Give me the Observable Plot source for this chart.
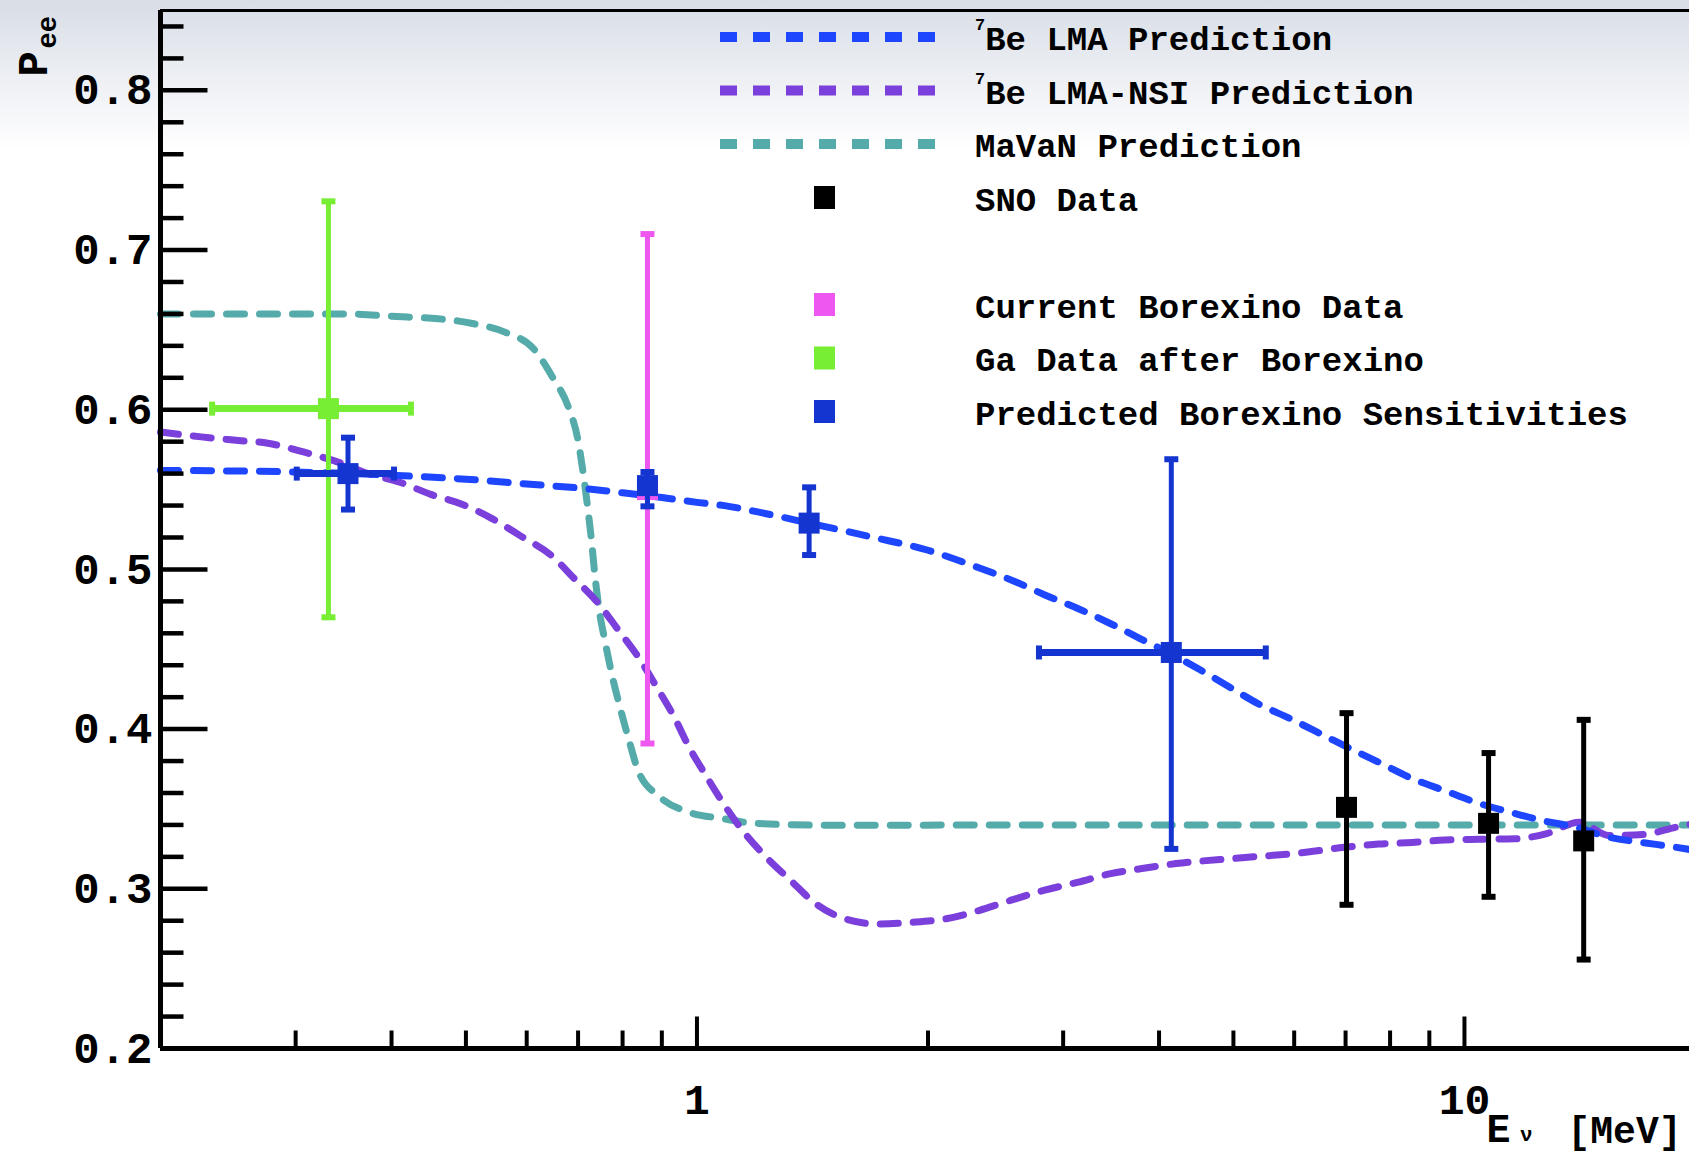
<!DOCTYPE html>
<html>
<head>
<meta charset="utf-8">
<script src="https://cdn.jsdelivr.net/npm/d3@7"></script>
<script src="https://cdn.jsdelivr.net/npm/@observablehq/plot@0.6"></script>
<style>
html, body { margin: 0; padding: 0; }
body {
  width: 1689px; height: 1153px; overflow: hidden;
  background: linear-gradient(to bottom, #d8dde6 0px, #e4e8ee 45px, #f4f5f8 105px, #ffffff 150px, #ffffff 100%);
}
#wrap { position: relative; width: 1689px; height: 1153px; }
</style>
</head>
<body>
<div id="wrap"></div>
<script>
// ---------------- data ----------------
const xDomain = [0.2, 20];
const yDomain = [0.2, 0.85];

const yMajorTicks = [0.2, 0.3, 0.4, 0.5, 0.6, 0.7, 0.8];
const yMinorTicks = [0.22,0.24,0.26,0.28,0.32,0.34,0.36,0.38,0.42,0.44,0.46,0.48,0.52,0.54,0.56,0.58,0.62,0.64,0.66,0.68,0.72,0.74,0.76,0.78,0.82,0.84];
const xMajorTicks = [1, 10];
const xMinorTicks = [0.3,0.4,0.5,0.6,0.7,0.8,0.9,2,3,4,5,6,7,8,9];
const xTickLabels = ["1", "10"];

// 7Be LMA prediction (blue dashed)
const lmaX = [0.2,0.3,0.4,0.5,0.6,0.7,0.8,0.9,1.0,1.1,1.2,1.4,1.7,2.0,2.3,2.59,2.84,3.13,3.46,3.79,4.15,4.53,4.94,5.41,5.9,6.5,7.18,7.79,8.55,9.42,10.37,11.47,12.62,13.96,15.43,17.06,18.87,20];
const lmaY = [0.562,0.561,0.559,0.5565,0.5535,0.551,0.548,0.545,0.542,0.5395,0.536,0.529,0.520,0.512,0.502,0.4926,0.484,0.4757,0.466,0.4564,0.447,0.437,0.4264,0.4154,0.407,0.397,0.3866,0.3785,0.369,0.3615,0.354,0.348,0.3428,0.3386,0.3323,0.329,0.326,0.324];

// 7Be LMA-NSI prediction (purple dashed)
const nsiX = [0.2,0.226,0.249,0.276,0.308,0.337,0.373,0.41,0.45,0.493,0.54,0.589,0.645,0.693,0.743,0.79,0.839,0.887,0.933,0.976,1.027,1.084,1.147,1.23,1.326,1.42,1.554,1.719,1.909,2.12,2.33,2.56,2.83,3.13,3.46,3.8,4.21,5.13,6.25,6.97,7.73,8.55,9.42,10.47,11.64,12.8,14.1,15.43,17.1,18.87,20];
const nsiY = [0.586,0.583,0.581,0.579,0.5734,0.568,0.56,0.5546,0.547,0.541,0.532,0.521,0.509,0.494,0.479,0.462,0.445,0.426,0.408,0.389,0.371,0.353,0.3365,0.32,0.305,0.2916,0.2814,0.278,0.279,0.2814,0.2864,0.2927,0.299,0.304,0.3095,0.3127,0.3158,0.3194,0.323,0.326,0.328,0.329,0.3305,0.331,0.3313,0.3346,0.3417,0.3334,0.334,0.3386,0.341];

// MaVaN prediction (teal dashed)
const mavanX = [0.2,0.345,0.42,0.46,0.51,0.562,0.613,0.649,0.68,0.70,0.711,0.721,0.729,0.736,0.7455,0.759,0.774,0.794,0.815,0.839,0.892,0.976,1.08,1.19,1.5,3,20];
const mavanY = [0.66,0.66,0.658,0.657,0.654,0.6486,0.638,0.62,0.6016,0.5807,0.56,0.5375,0.5175,0.497,0.475,0.455,0.435,0.4135,0.3935,0.3735,0.358,0.348,0.344,0.341,0.3398,0.34,0.34];

// SNO data (black)
const snoX  = [7.02, 10.75, 14.3];
const snoY  = [0.351, 0.341, 0.330];
const snoLo = [0.29, 0.295, 0.2557];
const snoHi = [0.41, 0.385, 0.4058];

// Current Borexino data (pink)
const bxX  = [0.862];
const bxY  = [0.55];
const bxLo = [0.391];
const bxHi = [0.71];

// Ga data after Borexino (green)
const gaX   = [0.331];
const gaY   = [0.6007];
const gaLo  = [0.47];
const gaHi  = [0.7305];
const gaXLo = [0.2335];
const gaXHi = [0.424];

// Predicted Borexino sensitivities (blue)
const sensX   = [0.351, 0.862, 1.40, 4.15];
const sensY   = [0.56, 0.5525, 0.529, 0.448];
const sensLo  = [0.5375, 0.5395, 0.509, 0.325];
const sensHi  = [0.5825, 0.561, 0.5514, 0.569];
const sensXLo = [0.301, null, null, 2.79];
const sensXHi = [0.403, null, null, 5.51];

// legend
const legendSup   = ["7", "7", "", "", "", "", ""];
const legendText  = ["Be LMA Prediction", "Be LMA-NSI Prediction", "MaVaN Prediction", "SNO Data", "Current Borexino Data", "Ga Data after Borexino", "Predicted Borexino Sensitivities"];
const legendKind  = ["line", "line", "line", "box", "box", "box", "box"];

// ---------------- styles ----------------
const C = {
  lma: "#1e46ff", nsi: "#7b3fdc", mavan: "#55aaaa",
  sno: "#000000", bx: "#ee58f0", ga: "#77ee33", sens: "#1535d0"
};
const legendColor = [C.lma, C.nsi, C.mavan, C.sno, C.bx, C.ga, C.sens];
const FONT = '"Liberation Mono", "DejaVu Sans Mono", monospace';

const W = 1689, H = 1153;
const rectSym = (x0, y0, w, h) => ({ draw(ctx) { ctx.rect(x0, y0, w, h); } });
const hCap = rectSym(-7, -3, 14, 6);
const vCap = rectSym(-3, -7, 6, 14);
const square = rectSym(-10.5, -10.5, 21, 21);

const zip = (xs, ys) => xs.map((x, i) => ({x, y: ys[i]}));
const lma = zip(lmaX, lmaY), nsi = zip(nsiX, nsiY), mavan = zip(mavanX, mavanY);
const table = (x, y, lo, hi, xlo, xhi) => x.map((v, i) => ({x: v, y: y[i], lo: lo[i], hi: hi[i], xlo: xlo ? xlo[i] : null, xhi: xhi ? xhi[i] : null}));
const sno = table(snoX, snoY, snoLo, snoHi);
const bx = table(bxX, bxY, bxLo, bxHi);
const ga = table(gaX, gaY, gaLo, gaHi, gaXLo, gaXHi);
const sens = table(sensX, sensY, sensLo, sensHi, sensXLo, sensXHi);

function errMarks(data, color) {
  const hx = data.filter(d => d.xlo != null);
  return [
    Plot.ruleX(data, {x: "x", y1: "lo", y2: "hi", stroke: color, strokeWidth: 5}),
    Plot.ruleY(hx, {y: "y", x1: "xlo", x2: "xhi", stroke: color, strokeWidth: 7}),
    Plot.dot(data, {x: "x", y: "lo", symbol: hCap, fill: color, stroke: "none"}),
    Plot.dot(data, {x: "x", y: "hi", symbol: hCap, fill: color, stroke: "none"}),
    Plot.dot(hx, {x: "xlo", y: "y", symbol: vCap, fill: color, stroke: "none"}),
    Plot.dot(hx, {x: "xhi", y: "y", symbol: vCap, fill: color, stroke: "none"}),
    Plot.dot(data, {x: "x", y: "y", symbol: square, fill: color, stroke: "none"})
  ];
}

const dash = {strokeWidth: 7, strokeDasharray: "18,15", curve: "monotone-x"};
const txt = {fontFamily: FONT, fontWeight: "bold", fill: "black"};

const chart = Plot.plot({
  width: W, height: H,
  marginLeft: 160, marginRight: 0, marginTop: 10, marginBottom: 105,
  style: {background: "transparent", fontFamily: FONT, overflow: "hidden"},
  x: {type: "log", domain: xDomain, range: [160, 1695], axis: null},
  y: {domain: yDomain, range: [1048, 10], axis: null},
  marks: [
    // curves
    Plot.line(mavan, {x: "x", y: "y", stroke: C.mavan, ...dash}),
    Plot.line(nsi, {x: "x", y: "y", stroke: C.nsi, ...dash}),
    Plot.line(lma, {x: "x", y: "y", stroke: C.lma, ...dash}),
    // data
    ...errMarks(bx, C.bx),
    ...errMarks(ga, C.ga),
    ...errMarks(sens, C.sens),
    ...errMarks(sno, C.sno),
    // frame
    Plot.ruleY([yDomain[1]], {stroke: "black", strokeWidth: 3}),
    Plot.ruleX([xDomain[0]], {stroke: "black", strokeWidth: 5}),
    Plot.ruleY([yDomain[0]], {stroke: "black", strokeWidth: 5}),
    // ticks
    Plot.dot(yMajorTicks, {y: d => d, frameAnchor: "left", symbol: rectSym(0, -2.25, 47, 4.5), fill: "black", stroke: "none"}),
    Plot.dot(yMinorTicks, {y: d => d, frameAnchor: "left", symbol: rectSym(0, -2.25, 23, 4.5), fill: "black", stroke: "none"}),
    Plot.dot(xMajorTicks, {x: d => d, frameAnchor: "bottom", symbol: rectSym(-2, -32, 4, 32), fill: "black", stroke: "none"}),
    Plot.dot(xMinorTicks, {x: d => d, frameAnchor: "bottom", symbol: rectSym(-2, -18, 4, 18), fill: "black", stroke: "none"}),
    // tick labels
    Plot.text(yMajorTicks, {y: d => d, frameAnchor: "left", text: d => d.toFixed(1), textAnchor: "end", dx: -8, fontSize: 44, ...txt}),
    Plot.text(xMajorTicks, {x: d => d, frameAnchor: "bottom", text: (d, i) => xTickLabels[i], dy: 52, lineAnchor: "middle", fontSize: 43, ...txt}),
    // axis titles
    Plot.text(["E"], {frameAnchor: "bottom-right", text: d => d, dx: -179, dy: 81, lineAnchor: "middle", fontSize: 40, ...txt}),
    Plot.text(["ν"], {frameAnchor: "bottom-right", text: d => d, dx: -157, dy: 86, lineAnchor: "middle", fontSize: 21, ...txt}),
    Plot.text(["[MeV]"], {frameAnchor: "bottom-right", text: d => d, textAnchor: "start", dx: -122, dy: 82, lineAnchor: "middle", fontSize: 38, ...txt}),
    Plot.text(["P"], {frameAnchor: "top-left", text: d => d, rotate: -90, dx: -127, dy: 66, lineAnchor: "middle", fontSize: 42, ...txt}),
    Plot.text(["ee"], {frameAnchor: "top-left", text: d => d, rotate: -90, dx: -113, dy: 38, lineAnchor: "middle", fontSize: 27, ...txt})
  ]
});
document.getElementById("wrap").appendChild(chart);

// legend overlay
const leg = d3.select("#wrap").append("svg")
  .attr("width", W).attr("height", 460)
  .style("position", "absolute").style("left", "0px").style("top", "0px");
const legendRow = [0, 1, 2, 3, 5, 6, 7];
legendText.forEach((t, i) => {
  const cy = 37 + 53.5 * legendRow[i];
  if (legendKind[i] === "line") {
    leg.append("line").attr("x1", 720).attr("x2", 935).attr("y1", cy).attr("y2", cy)
      .attr("stroke", legendColor[i]).attr("stroke-width", 10).attr("stroke-dasharray", "17,16");
  } else {
    leg.append("rect").attr("x", 814).attr("y", cy - 11.5).attr("width", 21).attr("height", 23)
      .attr("fill", legendColor[i]);
  }
  const tx = leg.append("text").attr("x", 975).attr("y", cy + 13)
    .attr("font-family", FONT).attr("font-weight", "bold").attr("font-size", 34).attr("fill", "black");
  if (legendSup[i]) {
    tx.append("tspan").attr("font-size", 17).attr("dy", -20).text(legendSup[i]);
    tx.append("tspan").attr("dy", 20).attr("dx", 0).text(t);
  } else {
    tx.text(t);
  }
});
</script>
</body>
</html>
